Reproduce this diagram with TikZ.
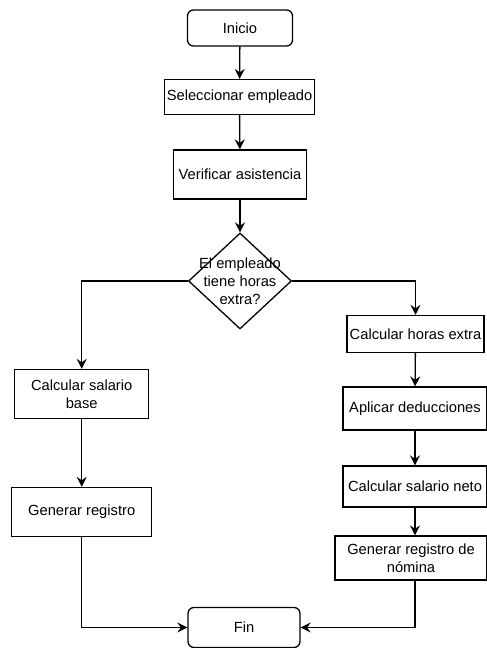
\documentclass[tikz,border=0pt]{standalone}
\usepackage{fontspec}
\setmainfont{Liberation Sans}
\usetikzlibrary{shapes.geometric,arrows.meta}

\tikzset{
  base/.style={draw=black, line width=1.3pt, fill=white, inner sep=0pt,
               align=center, font=\fontsize{14.7}{17.5}\selectfont},
  procbox/.style={base, rectangle},
  termbox/.style={base, rectangle, rounded corners=6pt},
  decbox/.style={base, diamond, aspect=1},
  flow/.style={draw=black, line width=1.3pt,
               -{Stealth[length=10pt,width=10pt,inset=3.5pt]}},
  plain/.style={draw=black, line width=1.3pt}
}

\begin{document}
\begin{tikzpicture}[x=1pt,y=-1pt]
  \useasboundingbox (0,0) rectangle (487,648);

  % main column
  \node[termbox, minimum width=105pt, minimum height=36pt] (inicio) at (240,28) {Inicio};
  \node[procbox, minimum width=150pt, minimum height=35pt] (sel) at (239.5,97) {Seleccionar empleado};
  \node[procbox, minimum width=133pt, minimum height=49pt] (ver) at (240,174.5) {Verificar asistencia};
  \node[decbox, minimum width=103pt, minimum height=96pt,
        label={[align=center, font=\fontsize{14.7}{18}\selectfont]center:El empleado\\tiene horas\\extra?}]
        (dec) at (240,281) {};

  % left branch
  \node[procbox, minimum width=134pt, minimum height=49pt] (base) at (81.7,394) {Calcular salario\\base};
  \node[procbox, minimum width=140pt, minimum height=49pt] (reg) at (81.7,512) {Generar registro};

  % right branch
  \node[procbox, minimum width=137pt, minimum height=37pt] (horas) at (415.5,334) {Calcular horas extra};
  \node[procbox, minimum width=144pt, minimum height=43pt] (ded) at (415,408.5) {Aplicar deducciones};
  \node[procbox, minimum width=144pt, minimum height=41pt] (neto) at (415,486.5) {Calcular salario neto};
  \node[procbox, minimum width=152pt, minimum height=44pt] (nom) at (411,558) {Generar registro de\\nómina};

  % end
  \node[termbox, minimum width=112pt, minimum height=40pt] (fin) at (244,627.5) {Fin};

  % connectors
  \draw[flow] (inicio) -- (sel);
  \draw[flow] (sel) -- (ver);
  \draw[flow] (ver) -- (dec);
  \draw[flow] (dec.west) -| (base.north);
  \draw[flow] (dec.east) -| (horas.north);
  \draw[flow] (base) -- (reg);
  \draw[flow] (horas) -- (ded);
  \draw[flow] (ded) -- (neto);
  \draw[flow] (neto.south) -- (neto.south |- nom.north);
  \draw[flow] (reg.south) |- (fin.west);
  \draw[flow] (nom.south -| neto.south) |- (fin.east);
\end{tikzpicture}
\end{document}
